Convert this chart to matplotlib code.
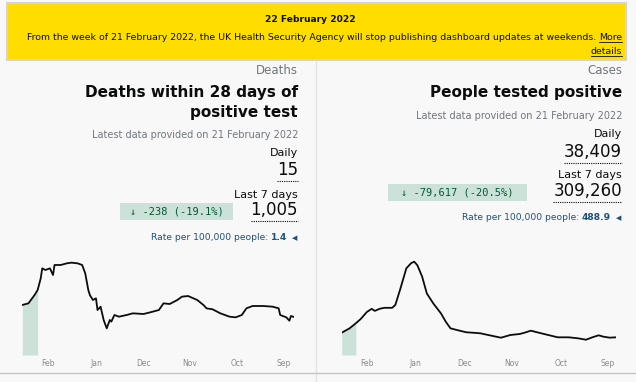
import matplotlib
matplotlib.use("Agg")
import matplotlib.pyplot as plt
import matplotlib.dates as mdates
from matplotlib.patches import Rectangle
import numpy as np
import pandas as pd

# Deaths within 28 days of positive test (7-day average)
death_dates = ["2021-08-25", "2021-08-27", "2021-08-28", "2021-08-30", "2021-09-03",
               "2021-09-04", "2021-09-08", "2021-09-14", "2021-09-21", "2021-09-25",
               "2021-09-28", "2021-10-02", "2021-10-06", "2021-10-12", "2021-10-17",
               "2021-10-21", "2021-10-23", "2021-10-27", "2021-11-02", "2021-11-06",
               "2021-11-09", "2021-11-14", "2021-11-18", "2021-11-21", "2021-11-25",
               "2021-12-01", "2021-12-08", "2021-12-12", "2021-12-17", "2021-12-20",
               "2021-12-22", "2021-12-23", "2021-12-25", "2021-12-27", "2021-12-29",
               "2021-12-31", "2022-01-01", "2022-01-03", "2022-01-05", "2022-01-06",
               "2022-01-08", "2022-01-10", "2022-01-13", "2022-01-17", "2022-01-20",
               "2022-01-24", "2022-01-28", "2022-01-29", "2022-01-31", "2022-02-03",
               "2022-02-05", "2022-02-06", "2022-02-08", "2022-02-10", "2022-02-14",
               "2022-02-18"]
death_values = [114, 117, 103, 113, 120, 140, 145, 147, 147, 140,
                120, 113, 115, 125, 137, 140, 150, 165, 177, 175,
                165, 153, 155, 135, 130, 123, 125, 120, 115, 120,
                100, 105, 80, 105, 145, 135, 170, 165, 180, 195,
                245, 270, 275, 277, 275, 270, 270, 240, 260, 255,
                260, 230, 195, 180, 155, 150]

# People tested positive (7-day average)
case_dates = ["2021-08-27", "2021-08-31", "2021-09-04", "2021-09-07", "2021-09-11",
              "2021-09-15", "2021-09-20", "2021-09-26", "2021-10-03", "2021-10-09",
              "2021-10-15", "2021-10-20", "2021-10-24", "2021-10-27", "2021-11-02",
              "2021-11-08", "2021-11-13", "2021-11-17", "2021-11-21", "2021-11-26",
              "2021-11-30", "2021-12-06", "2021-12-10", "2021-12-13", "2021-12-16",
              "2021-12-21", "2021-12-25", "2021-12-28", "2021-12-31", "2022-01-02",
              "2022-01-04", "2022-01-07", "2022-01-11", "2022-01-14", "2022-01-16",
              "2022-01-21", "2022-01-24", "2022-01-27", "2022-01-29", "2022-02-01",
              "2022-02-05", "2022-02-08", "2022-02-12", "2022-02-17"]
case_values = [34500, 33800, 35700, 38400, 34500, 29800, 32500, 34500, 34500, 39000,
               43500, 47400, 43500, 41000, 39000, 33700, 37000, 39600, 42300, 43500,
               44300, 48800, 52000, 65000, 81000, 101000, 120000, 153000, 175000, 182000,
               179000, 169000, 127000, 97500, 92000, 92000, 90000, 86000, 90000, 84000,
               70000, 62000, 52000, 43500]

shade_from = "2022-02-08"

W, H = 636, 382
INK = "#0b0c0c"
GREY = "#6f777b"
GREEN_BG = "#cce2d8"
GREEN_TX = "#005a30"
BLUE = "#1d4f7c"

fig = plt.figure(figsize=(W / 100, H / 100), dpi=100)
fig.patch.set_facecolor("#f8f8f8")
bg = fig.add_axes([0, 0, 1, 1])
bg.set_xlim(0, W)
bg.set_ylim(H, 0)
bg.axis("off")


def txt(x, y, s, size, color=INK, weight="normal", ha="right", **kw):
    return bg.text(x, y, s, fontsize=size, color=color, fontweight=weight,
                   ha=ha, va="center", **kw)


# banner
bg.add_patch(Rectangle((7, 3), 619, 57, facecolor="#ffdd00", edgecolor="#d4d4d4", lw=1.5))
txt(310, 19, "22 February 2022", 6.6, weight="bold", ha="center")
more = txt(622, 37, "More", 6.75)
line1 = bg.annotate("From the week of 21 February 2022, the UK Health Security Agency "
                    "will stop publishing dashboard updates at weekends. ",
                    xy=(0, 0.5), xycoords=more, ha="right", va="center",
                    fontsize=6.75, color=INK)
details = txt(622, 51, "details", 6.75)

# dividers
bg.plot([316, 316], [62, H], color="#e3e3e3", lw=1)
bg.plot([0, W], [373, 373], color="#c4c4c4", lw=1)

numbers = []


def card(xr, label, title_lines, ys, daily, week, change, rate, box):
    txt(xr, ys[0], label, 8.5, color=GREY)
    for i, t in enumerate(title_lines):
        txt(xr, ys[1] + i * 20, t, 11, weight="bold")
    txt(xr, ys[2], "Latest data provided on 21 February 2022", 7, color=GREY)
    txt(xr, ys[3], "Daily", 8)
    numbers.append(txt(xr, ys[4], daily, 12))
    txt(xr, ys[5], "Last 7 days", 8)
    numbers.append(txt(xr, ys[6], week, 12))
    bx0, bx1, by0, by1 = box
    bg.add_patch(Rectangle((bx0, by0), bx1 - bx0, by1 - by0, facecolor=GREEN_BG, lw=0))
    txt((bx0 + bx1) / 2, (by0 + by1) / 2, change, 7.5, color=GREEN_TX, ha="center",
        family="DejaVu Sans Mono")
    bg.text(xr - 1, ys[7], "\u25c0", fontsize=5, color=BLUE, ha="right", va="center")
    val = txt(xr - 11, ys[7], rate, 6.6, color=BLUE, weight="bold")
    bg.annotate("Rate per 100,000 people: ", xy=(0, 0.5), xycoords=val, ha="right",
                va="center", fontsize=6.6, color=BLUE)


card(298, "Deaths", ["Deaths within 28 days of", "positive test"],
     [70, 92, 135, 153, 170, 195, 210, 238], "15", "1,005",
     "\u2193 -238 (-19.1%)", "1.4", (120, 233, 203, 220))
card(622, "Cases", ["People tested positive"],
     [70, 92, 116, 134, 152, 175, 191, 218], "38,409", "309,260",
     "\u2193 -79,617 (-20.5%)", "488.9", (388, 527, 184, 201))


def chart(x0, x1, dates, values, ymax):
    ax = fig.add_axes([x0 / W, (H - 355) / H, (x1 - x0) / W, 100 / H])
    d = pd.to_datetime(dates)
    v = np.array(values, dtype=float)
    mask = d >= pd.Timestamp(shade_from)
    ax.fill_between(d[mask], 0, v[mask], color=GREEN_BG, lw=0)
    ax.plot(d, v, color=INK, lw=1.3)
    ax.set_xlim(d[-1], d[0])
    ax.set_ylim(0, ymax)
    ax.xaxis.set_major_locator(mdates.MonthLocator())
    ax.xaxis.set_major_formatter(mdates.DateFormatter("%b"))
    ax.tick_params(axis="x", length=0, pad=3, labelsize=5.5, labelcolor="#8a8a8a")
    ax.set_yticks([])
    for s in ax.spines.values():
        s.set_visible(False)
    ax.patch.set_alpha(0)


chart(22.3, 294, death_dates, death_values, 300)
chart(341.7, 616, case_dates, case_values, 195000)

# underlines need the text sizes
fig.canvas.draw()
inv = bg.transData.inverted()
for t in numbers:
    bb = t.get_window_extent()
    (xa, ya), (xb, yb) = inv.transform([[bb.x0, bb.y0], [bb.x1, bb.y1]])
    bg.plot([xa, xb], [ya + 2, ya + 2], color=INK, lw=0.8, ls=(0, (1, 1)))
for t in (more, details):
    bb = t.get_window_extent()
    (xa, ya), (xb, yb) = inv.transform([[bb.x0, bb.y0], [bb.x1, bb.y1]])
    bg.plot([xa, xb], [ya, ya], color=INK, lw=0.6)

fig.savefig("out.png", dpi=100, facecolor=fig.get_facecolor())
